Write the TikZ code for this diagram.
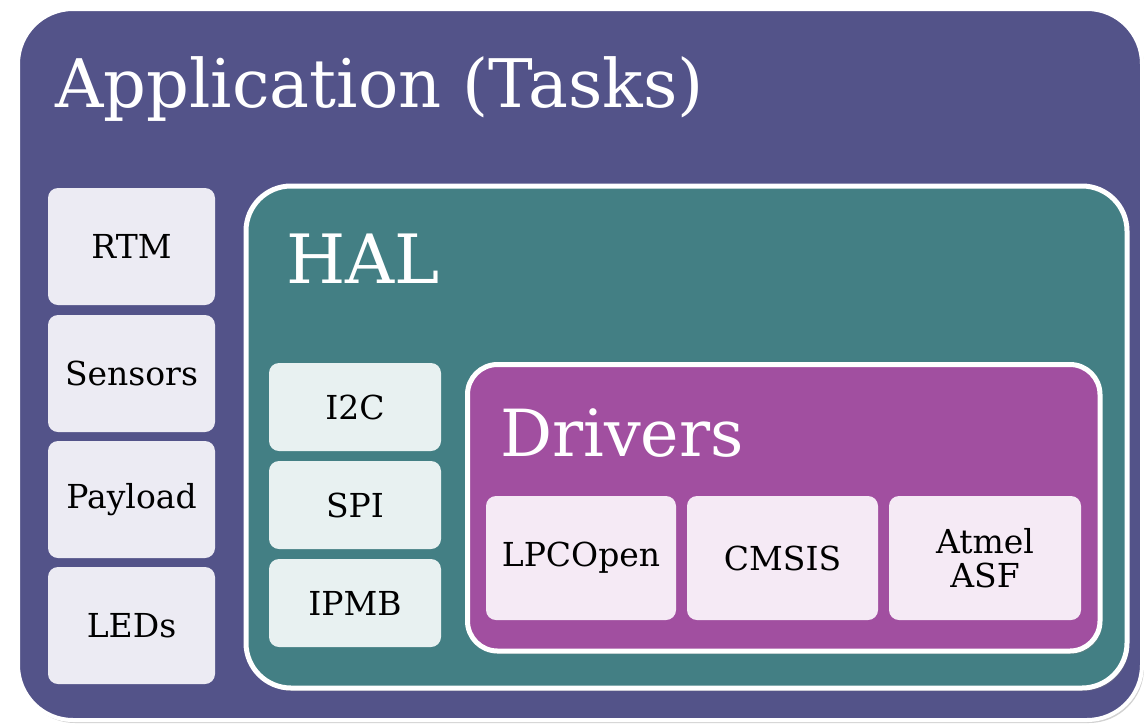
\documentclass[tikz,border=0pt]{standalone}
\usepackage{fontspec}
\setmainfont{DejaVu Serif}
\usetikzlibrary{shadows}
\definecolor{apppurple}{HTML}{535389}
\definecolor{halteal}{HTML}{437F84}
\definecolor{drvmag}{HTML}{A14FA0}
\definecolor{appbox}{HTML}{ECEBF3}
\definecolor{halbox}{HTML}{E8F1F1}
\definecolor{drvbox}{HTML}{F5EAF5}
\tikzset{
  container/.style={draw=white, inner sep=0pt, outer sep=0pt,
    drop shadow={opacity=0.35, shadow xshift=2pt, shadow yshift=-3pt}},
  leaf/.style={inner sep=0pt, outer sep=0pt, rounded corners=10pt, text=black,
    font=\rmfamily\fontsize{33}{34}\selectfont, align=center},
  title/.style={anchor=base west, text=white, inner sep=0pt},
}
\begin{document}
\begin{tikzpicture}[x=1pt,y=-1pt]
\useasboundingbox (0,0) rectangle (1144,724);
\fill[white] (0,0) rectangle (1144,724);
% containers
\node[container, line width=4pt, fill=apppurple, rounded corners=55pt,
  minimum width=1124pt, minimum height=711pt] (app) at (580,364.5) {};
\node[container, line width=5pt, fill=halteal, rounded corners=45pt,
  minimum width=881pt, minimum height=502pt] (hal) at (686.5,437) {};
\node[container, line width=5pt, fill=drvmag, rounded corners=30pt,
  minimum width=632.5pt, minimum height=286.5pt] (drv) at (783.75,507.75) {};
% titles
\node[title, font=\rmfamily\fontsize{67}{96}\selectfont] (apptitle) at (55,107) {Application (Tasks)};
\node[title, font=\rmfamily\fontsize{68}{90}\selectfont] (haltitle) at (286,283) {HAL};
\node[title, font=\rmfamily\fontsize{65}{94}\selectfont] (drvtitle) at (500,456) {Drivers};
% application boxes
\node[leaf, fill=appbox, minimum width=167pt, minimum height=117pt] (rtm) at (131.5,246.5) {RTM};
\node[leaf, fill=appbox, minimum width=167pt, minimum height=117pt] (sensors) at (131.5,373.5) {Sensors};
\node[leaf, fill=appbox, minimum width=167pt, minimum height=117pt] (payload) at (131.5,499.5) {Payload};
\node[leaf, fill=appbox, minimum width=167pt, minimum height=117pt] (leds) at (131.5,625.5) {LEDs};
% HAL boxes
\node[leaf, fill=halbox, minimum width=172pt, minimum height=88pt] (i2c) at (355,407) {I2C};
\node[leaf, fill=halbox, minimum width=172pt, minimum height=88pt] (spi) at (355,505) {SPI};
\node[leaf, fill=halbox, minimum width=172pt, minimum height=88pt] (ipmb) at (355,603) {IPMB};
% driver boxes
\node[leaf, fill=drvbox, minimum width=190pt, minimum height=124pt] (lpc) at (581,558) {LPCOpen};
\node[leaf, fill=drvbox, minimum width=191pt, minimum height=124pt] (cmsis) at (782.5,558) {CMSIS};
\node[leaf, fill=drvbox, minimum width=192pt, minimum height=124pt] (asf) at (985,558) {Atmel\\ASF};
\end{tikzpicture}
\end{document}
